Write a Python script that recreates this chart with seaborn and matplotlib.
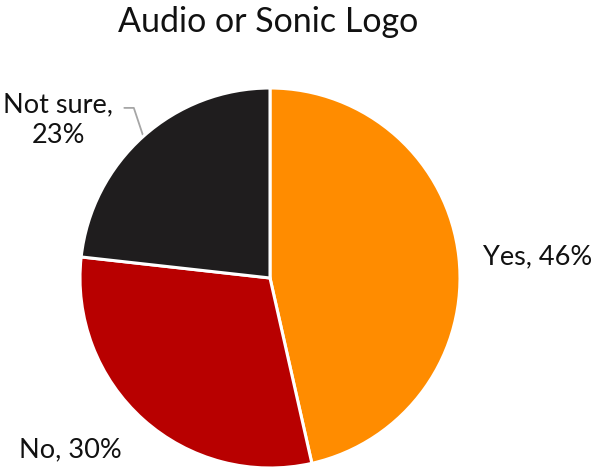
import numpy as np
import seaborn as sns
import matplotlib.pyplot as plt

# Survey answers for the audio / sonic logo question
answers = ["Yes", "No", "Not sure"]
shares = [46, 30, 23]
colors = ["#FF8C00", "#B80000", "#1F1D1E"]

sns.set_theme(style="white")
plt.rcParams['font.family'] = ['Lato', 'DejaVu Sans']

fig = plt.figure(figsize=(5.97, 4.68), dpi=100)
ax = fig.add_axes([80 / 597, 0.0, 380 / 597, 380 / 468])

labels = [f"{a}, {s}%" for a, s in zip(answers, shares)]
labels[2] = f"{answers[2]},\n{shares[2]}%"

wedges, texts = ax.pie(shares, colors=colors, startangle=90, counterclock=False,
                       labels=labels, labeldistance=1.2,
                       wedgeprops=dict(edgecolor="white", linewidth=2.2),
                       textprops=dict(fontsize=19.5, color="#111111"))
for w in wedges:
    w.set_clip_on(False)

# move labels to where the original puts them
label_pos = [(1.41, 0.11), (-1.05, -0.905), (-1.115, 0.83)]
for t, (x, y) in zip(texts, label_pos):
    t.set_position((x, y))
    t.set_ha("center")
    t.set_va("center")
    t.set_linespacing(1.25)

# leader line for the "Not sure" slice
w = wedges[2]
mid = np.deg2rad((w.theta1 + w.theta2) / 2)
ex, ey = np.cos(mid), np.sin(mid)
ax.plot([ex - 0.1, ex - 0.05, ex], [ey + 0.15, ey + 0.15, ey],
        color="#A6A6A6", lw=1.3, clip_on=False, zorder=0)

ax.set_xlim(-1, 1)
ax.set_ylim(-1, 1)
ax.set_aspect("equal")
ax.axis("off")

fig.text(268 / 597, 1 - 22 / 468, "Audio or Sonic Logo", ha="center", va="center",
         fontsize=24.5, color="#111111")

fig.savefig("out.png", dpi=100)
